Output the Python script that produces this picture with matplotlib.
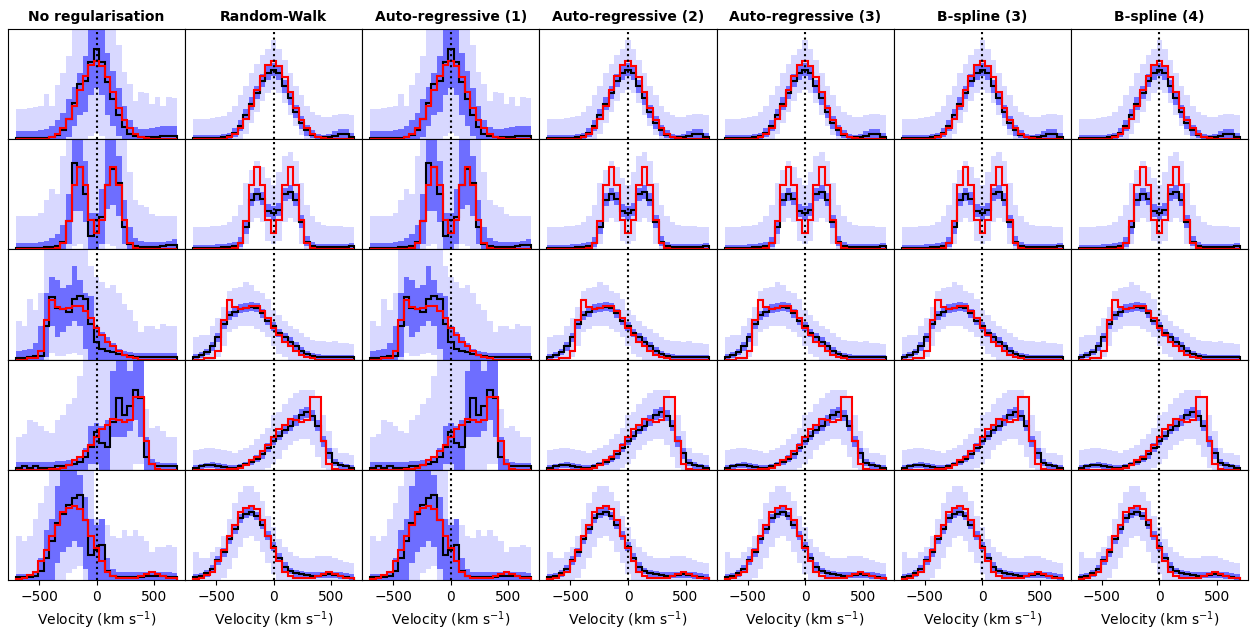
import numpy as np
import matplotlib
matplotlib.use("Agg")
import matplotlib.pyplot as plt

# velocity bins (km/s)
edges = np.linspace(-700, 700, 30)

titles = ['No regularisation', 'Random-Walk', 'Auto-regressive (1)', 'Auto-regressive (2)',
          'Auto-regressive (3)', 'B-spline (3)', 'B-spline (4)']
# which fit family each column looks like
col_kind = ['free', 'reg', 'free', 'reg', 'reg', 'reg', 'reg']

# input (true) line profiles, one per row
truth = [
    [0, 0, 0, 0, 0, 0.005, 0.015, 0.05, 0.10, 0.18, 0.30, 0.45, 0.57, 0.67, 0.71, 0.66, 0.56, 0.43, 0.28, 0.17, 0.10, 0.05, 0.02, 0.01, 0, 0, 0, 0, 0],
    [0, 0, 0, 0, 0, 0, 0, 0.01, 0.06, 0.26, 0.58, 0.75, 0.58, 0.27, 0.15, 0.27, 0.58, 0.75, 0.58, 0.27, 0.06, 0.01, 0, 0, 0, 0, 0, 0, 0],
    [0, 0, 0.01, 0.01, 0.08, 0.36, 0.54, 0.48, 0.46, 0.47, 0.49, 0.49, 0.44, 0.38, 0.29, 0.22, 0.16, 0.12, 0.08, 0.045, 0.025, 0.01, 0, 0, 0, 0, 0, 0, 0],
    [0, 0, 0, 0, 0, 0, 0.005, 0.01, 0.015, 0.045, 0.085, 0.12, 0.17, 0.22, 0.30, 0.37, 0.41, 0.46, 0.45, 0.43, 0.45, 0.66, 0.66, 0.26, 0.05, 0.01, 0, 0, 0],
    [0.01, 0.02, 0.045, 0.075, 0.17, 0.27, 0.40, 0.50, 0.62, 0.65, 0.67, 0.64, 0.54, 0.40, 0.29, 0.17, 0.075, 0.04, 0.02, 0.02, 0.02, 0.02, 0.04, 0.055, 0.07, 0.055, 0.035, 0.02, 0.015],
]

# unregularised fits: median, 68% band (dark), 95% band (light)
free_med = [
    [0.01, 0.01, 0.01, 0.01, 0.01, 0.01, 0.02, 0.04, 0.08, 0.18, 0.33, 0.50, 0.53, 0.70, 0.82, 0.70, 0.52, 0.36, 0.22, 0.11, 0.05, 0.03, 0.02, 0.02, 0.02, 0.02, 0.03, 0.03, 0.03],
    [0.01, 0.01, 0.01, 0.01, 0.01, 0.02, 0.02, 0.03, 0.07, 0.26, 0.78, 0.75, 0.50, 0.12, 0.27, 0.29, 0.58, 0.73, 0.60, 0.20, 0.05, 0.03, 0.02, 0.02, 0.02, 0.02, 0.03, 0.04, 0.04],
    [0.01, 0.01, 0.02, 0.03, 0.03, 0.30, 0.57, 0.47, 0.46, 0.43, 0.55, 0.58, 0.55, 0.32, 0.16, 0.10, 0.08, 0.07, 0.05, 0.04, 0.03, 0.02, 0.02, 0.02, 0.02, 0.02, 0.02, 0.02, 0.02],
    [0.02, 0.03, 0.02, 0.03, 0.02, 0.02, 0.02, 0.03, 0.03, 0.04, 0.05, 0.07, 0.12, 0.21, 0.34, 0.24, 0.21, 0.43, 0.65, 0.50, 0.58, 0.72, 0.65, 0.12, 0.05, 0.03, 0.03, 0.03, 0.03],
    [0.03, 0.03, 0.03, 0.04, 0.08, 0.20, 0.35, 0.52, 0.60, 0.68, 0.74, 0.77, 0.54, 0.23, 0.27, 0.32, 0.08, 0.04, 0.03, 0.03, 0.03, 0.03, 0.03, 0.035, 0.04, 0.04, 0.035, 0.03, 0.03],
]
free_dlo = [
    [0, 0, 0, 0, 0, 0, 0, 0, 0, 0.02, 0.12, 0.22, 0.25, 0.40, 0.46, 0.40, 0.22, 0.12, 0.03, 0, 0, 0, 0, 0, 0, 0, 0, 0, 0],
    [0, 0, 0, 0, 0, 0, 0, 0, 0, 0.05, 0.35, 0.35, 0.25, 0, 0, 0.05, 0.37, 0.40, 0.30, 0.05, 0, 0, 0, 0, 0, 0, 0, 0, 0],
    [0, 0, 0, 0, 0, 0.02, 0.30, 0.20, 0.25, 0.30, 0.35, 0.30, 0.10, 0, 0, 0, 0, 0, 0, 0, 0, 0, 0, 0, 0, 0, 0, 0, 0],
    [0, 0, 0, 0, 0, 0, 0, 0, 0, 0, 0, 0, 0, 0.05, 0.05, 0, 0, 0.30, 0.30, 0.30, 0.35, 0.45, 0.30, 0, 0, 0, 0, 0, 0],
    [0, 0, 0, 0, 0, 0, 0, 0.15, 0.25, 0.30, 0.35, 0.30, 0.10, 0, 0, 0, 0, 0, 0, 0, 0, 0, 0, 0, 0, 0, 0, 0, 0],
]
free_dhi = [
    [0.07, 0.07, 0.07, 0.07, 0.08, 0.09, 0.12, 0.17, 0.24, 0.36, 0.47, 0.60, 0.75, 1.1, 1.1, 1.0, 0.78, 0.62, 0.46, 0.30, 0.17, 0.11, 0.09, 0.09, 0.10, 0.11, 0.12, 0.12, 0.12],
    [0.06, 0.06, 0.06, 0.06, 0.07, 0.08, 0.10, 0.14, 0.22, 0.50, 1.1, 1.1, 0.80, 0.33, 0.33, 0.55, 1.1, 1.1, 0.85, 0.45, 0.20, 0.10, 0.08, 0.07, 0.07, 0.07, 0.07, 0.08, 0.09],
    [0.08, 0.09, 0.10, 0.15, 0.30, 0.60, 0.75, 0.72, 0.65, 0.68, 0.85, 0.72, 0.60, 0.58, 0.30, 0.25, 0.20, 0.15, 0.10, 0.08, 0.07, 0.06, 0.06, 0.06, 0.06, 0.06, 0.06, 0.06, 0.06],
    [0.07, 0.07, 0.07, 0.07, 0.07, 0.07, 0.07, 0.08, 0.08, 0.09, 0.10, 0.12, 0.20, 0.40, 0.42, 0.40, 0.45, 0.90, 1.1, 1.1, 0.90, 1.1, 1.1, 0.30, 0.10, 0.07, 0.06, 0.06, 0.06],
    [0.05, 0.05, 0.05, 0.06, 0.20, 0.45, 0.55, 0.85, 1.1, 1.1, 1.1, 0.95, 0.75, 0.55, 0.50, 0.55, 0.20, 0.10, 0.07, 0.07, 0.07, 0.07, 0.07, 0.07, 0.07, 0.07, 0.07, 0.07, 0.06],
]
free_llo = [
    [0, 0, 0, 0, 0, 0, 0, 0, 0, 0, 0, 0, 0, 0.03, 0.06, 0.03, 0, 0, 0, 0, 0, 0, 0, 0, 0, 0, 0, 0, 0],
    [0, 0, 0, 0, 0, 0, 0, 0, 0, 0, 0.03, 0.05, 0, 0, 0, 0, 0.05, 0.03, 0, 0, 0, 0, 0, 0, 0, 0, 0, 0, 0],
    [0, 0, 0, 0, 0, 0, 0.06, 0.03, 0.03, 0.05, 0.06, 0.04, 0, 0, 0, 0, 0, 0, 0, 0, 0, 0, 0, 0, 0, 0, 0, 0, 0],
    [0, 0, 0, 0, 0, 0, 0, 0, 0, 0, 0, 0, 0, 0, 0, 0, 0, 0, 0, 0, 0, 0.05, 0.05, 0, 0, 0, 0, 0, 0],
    [0, 0, 0, 0, 0, 0, 0, 0, 0, 0.06, 0.10, 0.13, 0, 0, 0, 0, 0, 0, 0, 0, 0, 0, 0, 0, 0, 0, 0, 0, 0],
]
free_lhi = [
    [0.27, 0.27, 0.28, 0.29, 0.30, 0.41, 0.30, 0.49, 0.60, 0.75, 1.1, 1.1, 1.1, 1.1, 1.1, 1.1, 1.1, 1.1, 0.85, 0.61, 0.50, 0.35, 0.43, 0.42, 0.32, 0.38, 0.30, 0.38, 0.37],
    [0.30, 0.30, 0.30, 0.30, 0.33, 0.45, 0.55, 0.50, 0.85, 1.1, 1.1, 1.1, 1.1, 1.1, 1.1, 1.1, 1.1, 1.1, 1.1, 1.1, 0.70, 0.45, 0.40, 0.38, 0.32, 0.30, 0.30, 0.30, 0.30],
    [0.35, 0.30, 0.55, 0.45, 0.60, 1.1, 1.1, 1.1, 1.1, 1.1, 1.1, 1.1, 1.1, 0.85, 0.75, 0.70, 0.65, 0.68, 0.60, 0.50, 0.45, 0.35, 0.25, 0.30, 0.30, 0.28, 0.32, 0.30, 0.30],
    [0.30, 0.32, 0.45, 0.43, 0.40, 0.35, 0.33, 0.45, 0.50, 0.60, 0.65, 0.85, 1.1, 1.1, 1.1, 1.1, 1.1, 1.1, 1.1, 1.1, 1.1, 1.1, 1.1, 0.55, 0.38, 0.40, 0.35, 0.30, 0.30],
    [0.40, 0.35, 0.40, 0.55, 0.70, 0.85, 1.1, 1.1, 1.1, 1.1, 1.1, 1.1, 1.1, 1.1, 0.55, 0.55, 0.50, 0.40, 0.38, 0.45, 0.40, 0.45, 0.40, 0.35, 0.25, 0.30, 0.30, 0.32, 0.30],
]

# regularised fits (random-walk, AR(2), AR(3), B-splines look alike)
reg_med = [
    [0.01, 0.01, 0.01, 0.01, 0.01, 0.02, 0.03, 0.06, 0.12, 0.22, 0.32, 0.42, 0.53, 0.60, 0.63, 0.60, 0.48, 0.37, 0.25, 0.15, 0.08, 0.04, 0.02, 0.015, 0.015, 0.03, 0.05, 0.05, 0.02],
    [0.01, 0.01, 0.01, 0.01, 0.01, 0.02, 0.02, 0.03, 0.06, 0.20, 0.45, 0.50, 0.46, 0.35, 0.33, 0.36, 0.50, 0.52, 0.45, 0.25, 0.07, 0.03, 0.02, 0.02, 0.02, 0.02, 0.02, 0.02, 0.03],
    [0.02, 0.04, 0.07, 0.12, 0.20, 0.32, 0.40, 0.43, 0.46, 0.47, 0.48, 0.47, 0.42, 0.35, 0.30, 0.24, 0.20, 0.16, 0.12, 0.08, 0.05, 0.035, 0.025, 0.02, 0.02, 0.02, 0.02, 0.02, 0.02],
    [0.02, 0.03, 0.04, 0.045, 0.035, 0.025, 0.02, 0.02, 0.03, 0.05, 0.07, 0.10, 0.14, 0.20, 0.26, 0.31, 0.36, 0.40, 0.45, 0.50, 0.52, 0.49, 0.40, 0.26, 0.15, 0.06, 0.04, 0.03, 0.02],
    [0.03, 0.04, 0.06, 0.10, 0.18, 0.25, 0.37, 0.46, 0.56, 0.60, 0.62, 0.58, 0.50, 0.40, 0.30, 0.20, 0.12, 0.08, 0.06, 0.05, 0.045, 0.04, 0.04, 0.045, 0.05, 0.045, 0.04, 0.03, 0.02],
]
reg_dlo = [
    [0, 0, 0, 0, 0, 0, 0, 0.02, 0.07, 0.17, 0.26, 0.36, 0.47, 0.54, 0.57, 0.54, 0.42, 0.31, 0.19, 0.09, 0.03, 0.01, 0, 0, 0, 0, 0.01, 0.01, 0],
    [0, 0, 0, 0, 0, 0, 0, 0, 0.02, 0.14, 0.39, 0.44, 0.40, 0.29, 0.27, 0.30, 0.44, 0.46, 0.39, 0.19, 0.03, 0, 0, 0, 0, 0, 0, 0, 0],
    [0, 0.01, 0.04, 0.08, 0.16, 0.28, 0.36, 0.39, 0.42, 0.43, 0.44, 0.43, 0.38, 0.31, 0.26, 0.20, 0.16, 0.12, 0.08, 0.05, 0.02, 0.01, 0, 0, 0, 0, 0, 0, 0],
    [0, 0.01, 0.02, 0.02, 0.01, 0, 0, 0, 0.01, 0.03, 0.04, 0.07, 0.10, 0.16, 0.22, 0.27, 0.32, 0.35, 0.40, 0.45, 0.47, 0.44, 0.35, 0.21, 0.10, 0.03, 0.01, 0, 0],
    [0.01, 0.02, 0.03, 0.06, 0.14, 0.21, 0.33, 0.42, 0.52, 0.56, 0.58, 0.54, 0.46, 0.36, 0.26, 0.16, 0.08, 0.05, 0.03, 0.02, 0.02, 0.02, 0.02, 0.02, 0.02, 0.02, 0.01, 0.01, 0],
]
reg_dhi = [
    [0.04, 0.04, 0.04, 0.04, 0.04, 0.05, 0.06, 0.10, 0.17, 0.27, 0.38, 0.48, 0.59, 0.66, 0.69, 0.66, 0.54, 0.43, 0.31, 0.21, 0.13, 0.08, 0.05, 0.04, 0.05, 0.07, 0.09, 0.09, 0.06],
    [0.04, 0.04, 0.04, 0.04, 0.05, 0.05, 0.06, 0.07, 0.11, 0.26, 0.51, 0.56, 0.52, 0.41, 0.39, 0.42, 0.56, 0.58, 0.51, 0.31, 0.12, 0.07, 0.05, 0.05, 0.05, 0.05, 0.05, 0.05, 0.06],
    [0.05, 0.07, 0.10, 0.16, 0.24, 0.36, 0.44, 0.48, 0.50, 0.51, 0.52, 0.51, 0.46, 0.39, 0.34, 0.28, 0.24, 0.20, 0.16, 0.11, 0.08, 0.06, 0.05, 0.04, 0.04, 0.04, 0.04, 0.04, 0.04],
    [0.04, 0.05, 0.06, 0.07, 0.06, 0.05, 0.04, 0.04, 0.05, 0.07, 0.10, 0.13, 0.18, 0.24, 0.30, 0.35, 0.40, 0.45, 0.50, 0.55, 0.57, 0.54, 0.45, 0.31, 0.20, 0.10, 0.07, 0.05, 0.04],
    [0.05, 0.06, 0.09, 0.14, 0.22, 0.29, 0.41, 0.50, 0.60, 0.64, 0.66, 0.62, 0.54, 0.44, 0.34, 0.24, 0.16, 0.11, 0.09, 0.08, 0.07, 0.07, 0.07, 0.07, 0.08, 0.07, 0.07, 0.06, 0.05],
]
reg_llo = [
    [0, 0, 0, 0, 0, 0, 0, 0, 0, 0.05, 0.15, 0.25, 0.35, 0.42, 0.45, 0.42, 0.33, 0.22, 0.12, 0.04, 0, 0, 0, 0, 0, 0, 0, 0, 0],
    [0, 0, 0, 0, 0, 0, 0, 0, 0, 0.05, 0.25, 0.28, 0.25, 0.08, 0.05, 0.08, 0.25, 0.28, 0.25, 0.05, 0, 0, 0, 0, 0, 0, 0, 0, 0],
    [0, 0, 0, 0, 0.02, 0.12, 0.25, 0.28, 0.30, 0.30, 0.30, 0.28, 0.25, 0.20, 0.12, 0.05, 0.02, 0, 0, 0, 0, 0, 0, 0, 0, 0, 0, 0, 0],
    [0, 0, 0, 0, 0, 0, 0, 0, 0, 0, 0, 0, 0, 0.02, 0.05, 0.10, 0.18, 0.22, 0.26, 0.28, 0.28, 0.22, 0.12, 0.02, 0, 0, 0, 0, 0],
    [0, 0, 0, 0, 0, 0.02, 0.10, 0.20, 0.30, 0.38, 0.40, 0.35, 0.25, 0.15, 0.05, 0, 0, 0, 0, 0, 0, 0, 0, 0, 0, 0, 0, 0, 0],
]
reg_lhi = [
    [0.18, 0.18, 0.18, 0.19, 0.20, 0.21, 0.25, 0.30, 0.40, 0.48, 0.60, 0.68, 0.76, 0.82, 0.90, 0.82, 0.72, 0.60, 0.48, 0.40, 0.30, 0.25, 0.22, 0.20, 0.20, 0.22, 0.23, 0.23, 0.22],
    [0.20, 0.20, 0.20, 0.21, 0.21, 0.22, 0.25, 0.30, 0.40, 0.60, 0.72, 0.80, 0.75, 0.65, 0.58, 0.70, 0.85, 0.88, 0.80, 0.60, 0.40, 0.30, 0.25, 0.22, 0.21, 0.21, 0.21, 0.20, 0.20],
    [0.20, 0.22, 0.22, 0.30, 0.38, 0.48, 0.62, 0.65, 0.66, 0.70, 0.68, 0.62, 0.60, 0.55, 0.45, 0.40, 0.35, 0.30, 0.28, 0.24, 0.20, 0.18, 0.17, 0.17, 0.16, 0.17, 0.15, 0.15, 0.14],
    [0.18, 0.19, 0.20, 0.20, 0.19, 0.18, 0.17, 0.15, 0.18, 0.20, 0.22, 0.28, 0.32, 0.38, 0.50, 0.52, 0.60, 0.65, 0.70, 0.72, 0.72, 0.72, 0.65, 0.50, 0.35, 0.20, 0.15, 0.15, 0.13],
    [0.25, 0.20, 0.20, 0.25, 0.30, 0.40, 0.55, 0.70, 0.80, 0.85, 0.85, 0.80, 0.72, 0.58, 0.48, 0.37, 0.30, 0.25, 0.22, 0.20, 0.20, 0.20, 0.22, 0.22, 0.22, 0.20, 0.18, 0.16, 0.15],
]

fits = {
    'free': (free_med, free_dlo, free_dhi, free_llo, free_lhi),
    'reg': (reg_med, reg_dlo, reg_dhi, reg_llo, reg_lhi),
}

light = '#d8d8ff'
dark = '#6e6eff'

nrow, ncol = len(truth), len(titles)
fig, axes = plt.subplots(nrow, ncol, figsize=(12.52, 6.29), dpi=100)
fig.subplots_adjust(left=0.0064, right=0.9968, top=0.954, bottom=0.078, wspace=0, hspace=0)

for r in range(nrow):
    for c in range(ncol):
        ax = axes[r, c]
        med, dlo, dhi, llo, lhi = fits[col_kind[c]]
        ax.stairs(lhi[r], edges, baseline=llo[r], fill=True, color=light, lw=0)
        ax.stairs(dhi[r], edges, baseline=dlo[r], fill=True, color=dark, lw=0)
        ax.stairs(med[r], edges, color='k', lw=1.5)
        ax.stairs(truth[r], edges, color='red', lw=1.5)
        ax.axvline(0, color='k', ls=':', lw=1.5)
        ax.set_xlim(-770, 770)
        ax.set_ylim(0, 1)
        ax.set_yticks([])
        ax.set_xticks([-500, 0, 500])
        if r == 0:
            ax.set_title(titles[c], fontsize=10, fontweight='bold')
        if r == nrow - 1:
            ax.tick_params(axis='x', labelsize=10)
            ax.set_xlabel('Velocity (km s$^{-1}$)', fontsize=10)
        else:
            ax.tick_params(axis='x', length=0, labelbottom=False)

fig.savefig('out.png', dpi=100)
